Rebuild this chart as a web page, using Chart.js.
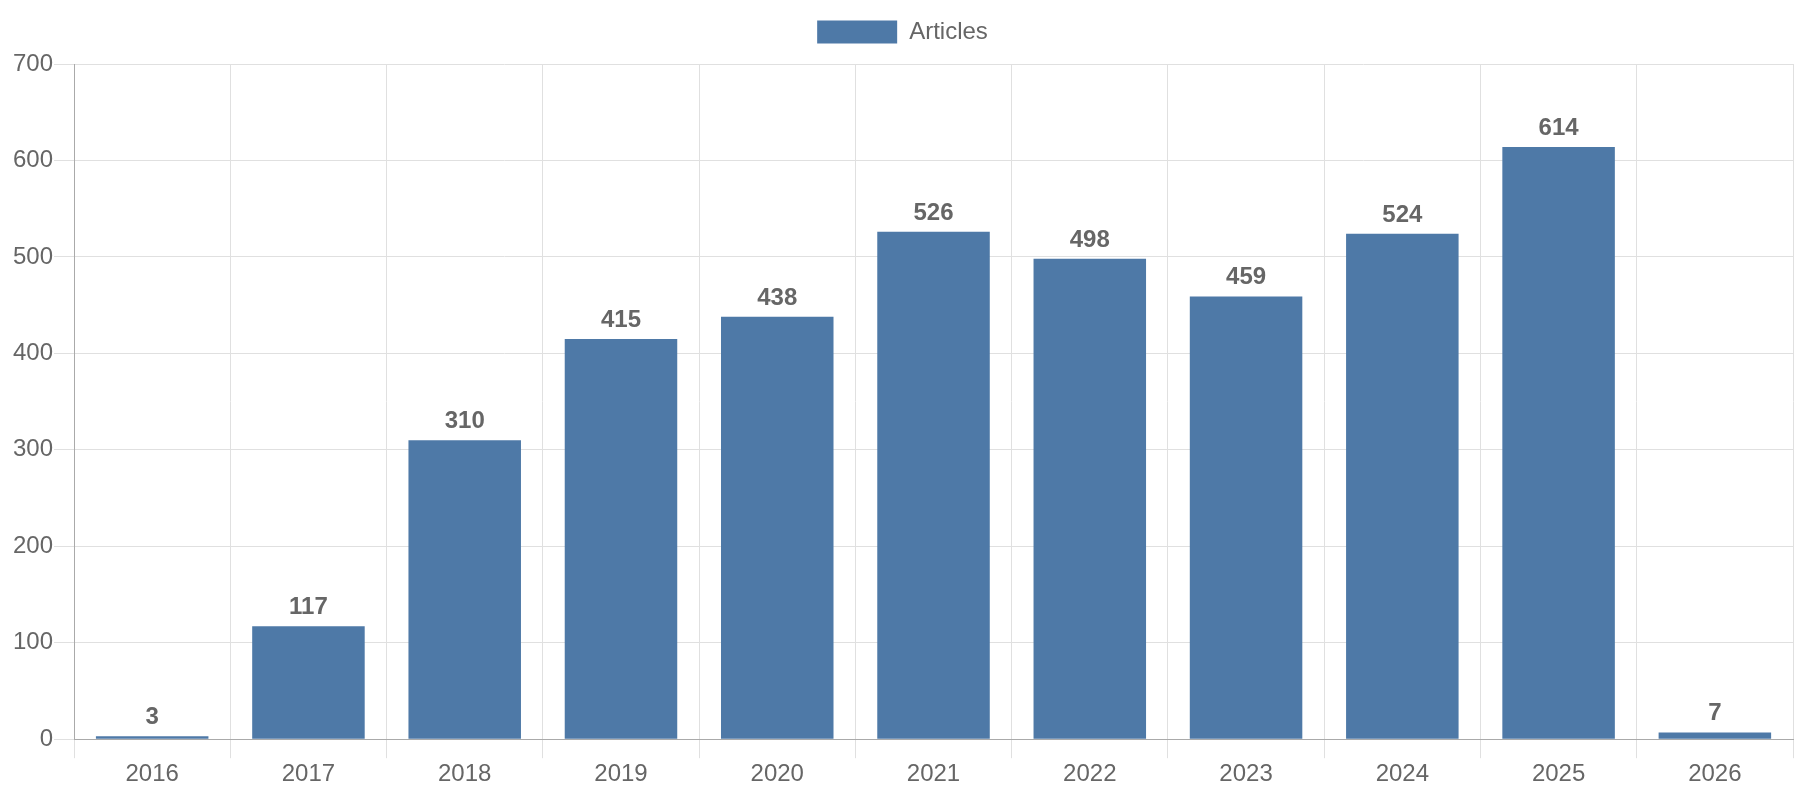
<!DOCTYPE html>
<html>
<head>
<meta charset="utf-8">
<script src="https://cdn.jsdelivr.net/npm/chart.js@4/dist/chart.umd.min.js"></script>
<style>
html,body{margin:0;padding:0;background:#fff;}
#wrap{width:1800px;height:800px;}
</style>
</head>
<body>
<div id="wrap"><canvas id="c" width="1800" height="800"></canvas></div>
<script>
const categories = ["2016","2017","2018","2019","2020","2021","2022","2023","2024","2025","2026"];
const articles = [3,117,310,415,438,526,498,459,524,614,7];
const seriesName = "Articles";

const FONT = "'Liberation Sans', Arial, sans-serif";

const valueLabels = {
  id: 'valueLabels',
  afterDatasetsDraw(chart) {
    const ctx = chart.ctx;
    ctx.save();
    ctx.font = "bold 24px " + FONT;
    ctx.fillStyle = '#666';
    ctx.textAlign = 'center';
    ctx.textBaseline = 'alphabetic';
    chart.data.datasets.forEach((ds, di) => {
      const meta = chart.getDatasetMeta(di);
      meta.data.forEach((el, i) => {
        ctx.fillText(String(ds.data[i]), el.x, el.y - 12);
      });
    });
    ctx.restore();
  }
};

const legendMargin = {
  id: 'legendMargin',
  beforeInit(chart) {
    const orig = chart.legend.fit;
    chart.legend.fit = function () {
      orig.bind(chart.legend)();
      this.height += 10;
    };
  }
};

new Chart(document.getElementById('c'), {
  type: 'bar',
  data: {
    labels: categories,
    datasets: [{
      label: seriesName,
      data: articles,
      backgroundColor: '#4e79a7',
      borderWidth: 0
    }]
  },
  options: {
    responsive: false,
    animation: false,
    devicePixelRatio: 1,
    layout: { padding: { top: 10, right: 7, left: 12, bottom: 9 } },
    plugins: {
      legend: {
        display: true,
        position: 'top',
        labels: {
          boxWidth: 80,
          boxHeight: 23,
          color: '#666',
          font: { family: FONT, size: 24 },
          padding: 10
        }
      },
      tooltip: { enabled: false }
    },
    scales: {
      x: {
        grid: { color: '#e0e0e0', tickLength: 19, offset: true },
        border: { color: '#aaa' },
        ticks: { color: '#666', font: { family: FONT, size: 24 }, padding: 2 }
      },
      y: {
        min: 0, max: 700,
        ticks: { stepSize: 100, color: '#666', font: { family: FONT, size: 24 }, padding: 1 },
        grid: { color: '#e0e0e0', tickLength: 20 },
        border: { color: '#aaa' }
      }
    }
  },
  plugins: [valueLabels, legendMargin]
});
</script>
</body>
</html>
